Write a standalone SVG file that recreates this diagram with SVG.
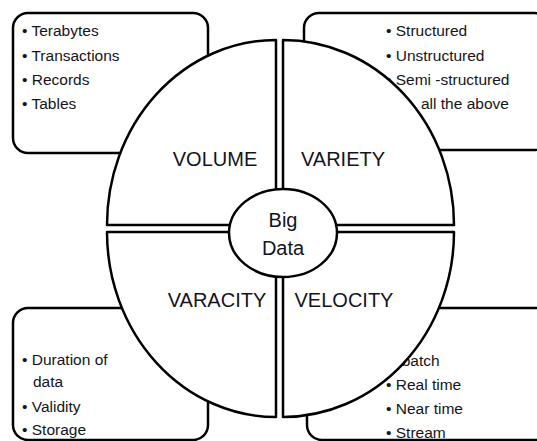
<svg xmlns="http://www.w3.org/2000/svg" width="537" height="441" viewBox="0 0 537 441">
<style>
.box{fill:#fff;stroke:#000;stroke-width:2.5}
.q{fill:#fff;stroke:#000;stroke-width:2.5;stroke-linejoin:round}
.t{font-family:"Liberation Sans",Arial,sans-serif;font-size:15.5px;fill:#141420}
.b{font-family:"Liberation Sans",Arial,sans-serif;font-size:20px;fill:#141420}
</style>
<rect width="537" height="441" fill="#fff"/>
<g id="volume-box">
<rect class="box" x="13" y="13" width="195" height="140" rx="15"/>
<text class="t" x="22" y="36">• Terabytes</text>
<text class="t" x="22" y="61">• Transactions</text>
<text class="t" x="22" y="85">• Records</text>
<text class="t" x="22" y="109">• Tables</text>
</g>
<g id="variety-box">
<rect class="box" x="304" y="13" width="245" height="137" rx="15"/>
<text class="t" x="386" y="36">• Structured</text>
<text class="t" x="386" y="61">• Unstructured</text>
<text class="t" x="386" y="85">• Semi -structured</text>
<text class="t" x="421" y="109">all the above</text>
</g>
<g id="varacity-box">
<rect class="box" x="13" y="308" width="195" height="132" rx="15"/>
<text class="t" x="22" y="365">• Duration of</text>
<text class="t" x="33" y="387">data</text>
<text class="t" x="22" y="412">• Validity</text>
<text class="t" x="22" y="435">• Storage</text>
</g>
<g id="velocity-box">
<rect class="box" x="307" y="308" width="245" height="132" rx="15"/>
<text class="t" x="392" y="366">• batch</text>
<text class="t" x="386" y="390">• Real time</text>
<text class="t" x="386" y="414">• Near time</text>
<text class="t" x="386" y="438">• Stream</text>
</g>
<g id="volume">
<path class="q" d="M276 225 L276 40 A169 185 0 0 0 107 225 Z"/>
<text class="b" x="215" y="166" text-anchor="middle">VOLUME</text>
</g>
<g id="variety">
<path class="q" d="M283 225 L283 40 A171 185 0 0 1 454 225 Z"/>
<text class="b" x="343" y="166" text-anchor="middle">VARIETY</text>
</g>
<g id="varacity">
<path class="q" d="M276 232 L107 232 A169 185 0 0 0 276 417 Z"/>
<text class="b" x="217" y="307" text-anchor="middle">VARACITY</text>
</g>
<g id="velocity">
<path class="q" d="M283 232 L454 232 A171 185 0 0 1 283 417 Z"/>
<text class="b" x="344" y="307" text-anchor="middle">VELOCITY</text>
</g>
<g id="big-data">
<ellipse class="q" cx="283" cy="233" rx="54" ry="44"/>
<text class="b" x="283" y="227" text-anchor="middle">Big</text>
<text class="b" x="283" y="255" text-anchor="middle">Data</text>
</g>
<g id="connectors"></g>
</svg>
